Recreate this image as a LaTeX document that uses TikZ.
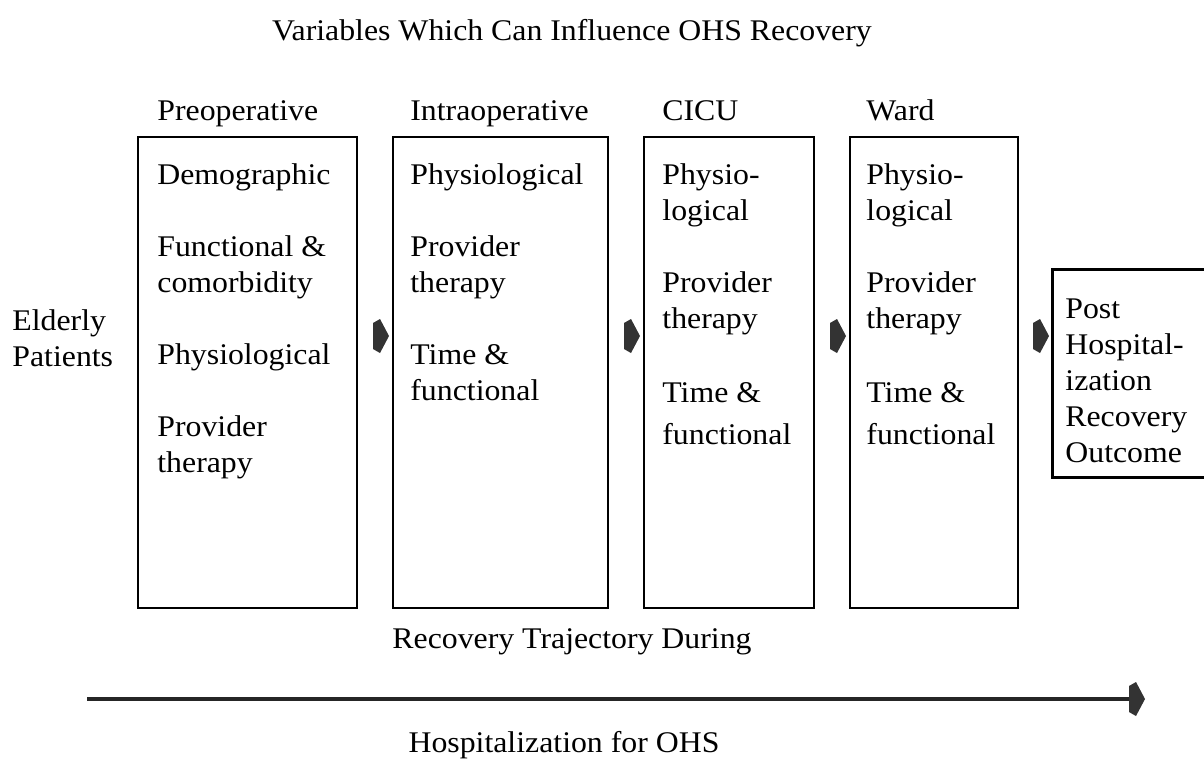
\documentclass[tikz,border=0pt]{standalone}
\usepackage{fontspec}
\setmainfont{Liberation Serif}[FakeStretch=1.06]
\usetikzlibrary{fit}
\colorlet{tipcolor}{black!80}
\tikzset{
    % --- styles ---
    stage_box/.style={draw, line width=1.2pt, inner sep=0pt},
    open_box/.style={inner sep=0pt},
    head_text/.style={inner sep=0pt, anchor=base west},
    list_text/.style={inner sep=0pt, anchor=north west, align=left},
    centre_text/.style={inner sep=0pt, anchor=base},
    trajectory/.style={line width=2pt, draw=black!85},
    % small dark arrow head between the stages
    step_tip/.pic={\fill[tipcolor] (-16,-13) -- (-9,-17) -- (0,0) -- (-9,17) -- (-16,13) -- cycle;}
}

\begin{document}
\begin{tikzpicture}[x=0.5pt, y=-0.5pt, font=\fontsize{15}{18}\selectfont]
    \useasboundingbox (0,0) rectangle (1204,761);

    \node[centre_text] (title) at (572,40) {Variables Which Can Influence OHS Recovery};

    \node[list_text] (elderly) at (12,309) {Elderly\\Patients};

    % --- stage boxes ---
    \node[stage_box, fit={(138,137) (357,608)}] (preop) {};
    \node[stage_box, fit={(393,137) (608,608)}] (intraop) {};
    \node[stage_box, fit={(644,137) (814,608)}] (cicu) {};
    \node[stage_box, fit={(850,137) (1018,608)}] (ward) {};
    \node[open_box, fit={(1053,270) (1214,477)}] (post) {};
    \draw[line width=1.2pt] (post.north east) -- (post.north west) -- (post.south west) -- (post.south east);

    \node[head_text] (preop_head) at (157,120) {Preoperative};
    \node[head_text] (intraop_head) at (410,120) {Intraoperative};
    \node[head_text] (cicu_head) at (662,120) {CICU};
    \node[head_text] (ward_head) at (866,120) {Ward};

    \node[list_text] (preop_list) at (157,163)
        {Demographic\\[18pt]Functional \&\\comorbidity\\[18pt]Physiological\\[18pt]Provider\\therapy};
    \node[list_text] (intraop_list) at (410,163)
        {Physiological\\[18pt]Provider\\therapy\\[18pt]Time \&\\functional};
    \node[list_text] (cicu_list) at (662,163)
        {Physio-\\logical\\[18pt]Provider\\therapy\\[19pt]Time \&\\[3pt]functional};
    \node[list_text] (ward_list) at (866,163)
        {Physio-\\logical\\[18pt]Provider\\therapy\\[19pt]Time \&\\[3pt]functional};
    \node[list_text] (post_list) at (1065,298)
        {Post\\Hospital-\\ization\\Recovery\\Outcome};

    \pic at (389,336) {step_tip};
    \pic at (640,336) {step_tip};
    \pic at (846,336) {step_tip};
    \pic at (1049,336) {step_tip};

    % --- trajectory ---
    \node[centre_text] (traj_top) at (572,648) {Recovery Trajectory During};
    \node[centre_text] (traj_bottom) at (564,752) {Hospitalization for OHS};
    \coordinate (traj_start) at (87,699);
    \coordinate (traj_end) at (1131,699);
    \draw[trajectory] (traj_start) -- (traj_end);
    \pic at (1145,699) {step_tip};
\end{tikzpicture}
\end{document}
